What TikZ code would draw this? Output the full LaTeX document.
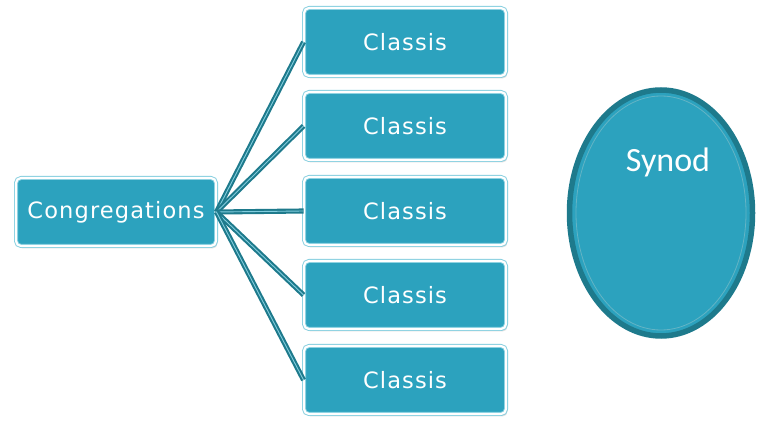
\documentclass[tikz,border=0pt]{standalone}
\usepackage{fontspec}
\usepackage{tikz}
\usetikzlibrary{shapes.geometric}
\usetikzlibrary{shadows}
\newfontfamily\boxfont[LetterSpace=5]{DejaVu Sans}
\newfontfamily\synodfont{Carlito}
\definecolor{tealfill}{RGB}{44,162,190}
\definecolor{tealdark}{RGB}{30,122,140}
\definecolor{teallight}{RGB}{130,205,222}
\tikzstyle{boxnode}=[rectangle, rounded corners=5pt, fill=tealfill,
                     draw=teallight, double=white, double distance=2.2pt, line width=0.9pt,
                     drop shadow={opacity=0.25, shadow xshift=1.5pt, shadow yshift=-2.5pt},
                     text=white, font=\boxfont\fontsize{22.5pt}{25pt}\selectfont]
\tikzstyle{link}=[draw=tealdark, double=teallight, double distance=0.9pt, line width=2.1pt]
\tikzstyle{every picture}=[x=1pt,y=1pt]

\begin{document}
\begin{tikzpicture}
      \useasboundingbox (0,0) rectangle (766,423);
      \node[boxnode, minimum width=200pt, minimum height=68pt] (congr) at (116,211) {Congregations};
      \node[boxnode, minimum width=202pt, minimum height=68pt] (classA) at (405,381) {Classis};
      \node[boxnode, minimum width=202pt, minimum height=68pt] (classB) at (405,297) {Classis};
      \node[boxnode, minimum width=202pt, minimum height=68pt] (classC) at (405,212) {Classis};
      \node[boxnode, minimum width=202pt, minimum height=68pt] (classD) at (405,128) {Classis};
      \node[boxnode, minimum width=202pt, minimum height=68pt] (classE) at (405,43) {Classis};
	\draw[link] (congr.east)--(classA.west);
	\draw[link] (congr.east)--(classB.west);
	\draw[link] (congr.east)--(classC.west);
	\draw[link] (congr.east)--(classD.west);
	\draw[link] (congr.east)--(classE.west);
      % synod
      \node[ellipse, fill=tealfill, draw=tealdark, line width=5.5pt,
	minimum width=183pt, minimum height=246pt] (synod) at (661,210) {};
      \draw[teallight!70!tealdark, line width=0.8pt] (synod.center) ellipse (85pt and 117pt);
      \node[text=white, font=\synodfont\fontsize{34pt}{36pt}\selectfont,
	inner sep=0pt] (synodtext) at ([xshift=7pt,yshift=-75pt]synod.north) {Synod};
\end{tikzpicture}
\end{document}
